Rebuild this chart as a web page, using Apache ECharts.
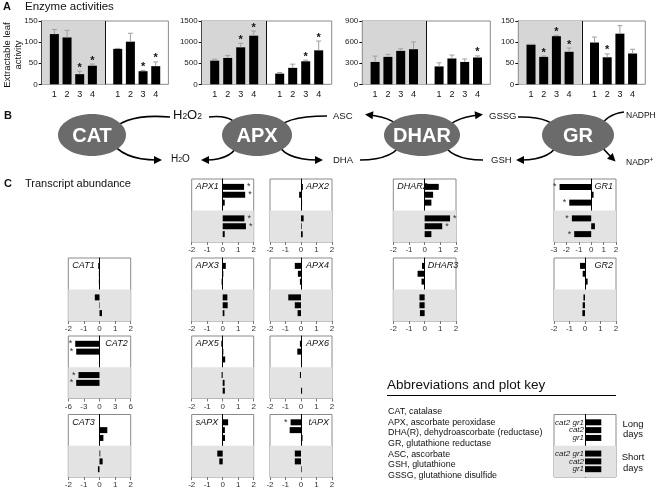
<!DOCTYPE html>
<html><head><meta charset="utf-8">
<script src="https://cdn.jsdelivr.net/npm/echarts@6/dist/echarts.min.js"></script>
<style>html,body{margin:0;padding:0;background:#fff}#c{width:662px;height:490px}</style>
</head><body><div id="c"></div><script>
const FONT = '"Liberation Sans", Arial, Helvetica, sans-serif';

// ---------- Panel A: enzyme activities ----------
const sampleLabels = ['1', '2', '3', '4'];
const enzymeNames = ['CAT', 'APX', 'DHAR', 'GR'];
const catGrey = [119, 111, 24, 44];
const catGreyErr = [130, 128, 31, 48];
const catGreySig = [0, 0, 1, 1];
const catWhite = [84, 101, 31, 43];
const catWhiteErr = [85, 121, 33, 53];
const catWhiteSig = [0, 0, 1, 1];
const apxGrey = [560, 625, 876, 1152];
const apxGreyErr = [595, 685, 971, 1263];
const apxGreySig = [0, 0, 1, 1];
const apxWhite = [253, 390, 545, 805];
const apxWhiteErr = [280, 478, 572, 1026];
const apxWhiteSig = [0, 0, 1, 1];
const dharGrey = [318, 390, 475, 499];
const dharGreyErr = [401, 426, 504, 602];
const dharGreySig = [0, 0, 0, 0];
const dharWhite = [254, 367, 318, 381];
const dharWhiteErr = [305, 416, 360, 404];
const dharWhiteSig = [0, 0, 0, 1];
const grGrey = [94, 65, 114, 77];
const grGreyErr = [95, 67, 116, 86];
const grGreySig = [0, 1, 1, 1];
const grWhite = [99, 64, 120, 73];
const grWhiteErr = [112, 72, 139, 83];
const grWhiteSig = [0, 1, 0, 0];
const activityTicks = [[0, 150, 50], [0, 1500, 500], [0, 900, 300], [0, 150, 50]];

// ---------- Panel C: transcript abundance (log2 ratios) ----------
// order: long days (cat2 gr1, cat2, gr1), short days (cat2 gr1, cat2, gr1)
const genotypes = ['cat2 gr1', 'cat2', 'gr1', 'cat2 gr1', 'cat2', 'gr1'];
const apx1 = [1.38, 1.45, 0.13, 1.4, 1.5, 0.13];
const apx1Sig = [1, 1, 0, 1, 1, 0];
const apx2 = [0.12, -0.12, 0.07, 0.17, 0.04, 0.11];
const apx3 = [0.2, 0.04, -0.07, 0.3, 0.32, 0.11];
const apx4 = [-0.4, -0.2, -0.07, -0.82, -0.4, -0.22];
const apx5 = [-0.09, 0.04, 0.16, -0.07, 0.12, 0.14];
const apx6 = [-0.07, -0.24, 0.0, -0.07, 0.0, 0.07];
const sapx = [0.35, 0.14, 0.15, -0.35, -0.22, 0.0];
const tapx = [-0.67, -0.73, 0.1, -0.4, -0.4, 0.04];
const tapxSig = [1, 0, 0, 0, 0, 0];
const cat1 = [-0.08, -0.04, -0.04, -0.3, 0.03, 0.16];
const cat2 = [-4.67, -4.48, 0.0, -4.04, -4.48, 0.0];
const cat2Sig = [1, 1, 0, 1, 1, 0];
const cat3 = [-0.03, 0.5, 0.25, 0.05, 0.2, -0.1];
const dhar2 = [0.9, 0.54, 0.43, 1.62, 1.12, 0.43];
const dhar2Sig = [0, 0, 0, 1, 1, 0];
const dhar3 = [-0.17, -0.45, -0.2, -0.33, -0.33, -0.3];
const gr1 = [-2.55, 0.19, -1.77, -1.56, 0.3, -1.37];
const gr1Sig = [1, 0, 1, 1, 0, 1];
const gr2 = [-0.32, -0.15, 0.17, -0.1, -0.15, -0.17];
const keyValues = [1.05, 1.05, 1.05, 1.05, 1.05, 1.05];
const noSig = [0, 0, 0, 0, 0, 0];

const abbreviations = [
  'CAT, catalase',
  'APX, ascorbate peroxidase',
  'DHA(R), dehydroascorbate (reductase)',
  'GR, glutathione reductase',
  'ASC, ascorbate',
  'GSH, glutathione',
  'GSSG, glutathione disulfide'
];

// ---------- build option ----------
const grids = [], xAxes = [], yAxes = [], series = [], graphics = [];

function txt(text, x, y, font, opts) {
  opts = opts || {};
  const align = opts.align || 'left';
  const va = opts.va || 'middle';
  const el = {
    type: 'text', x: x, y: y, z: 100, silent: true,
    rotation: opts.rotation || 0,
    style: {
      text: text, font: font, fill: opts.fill || '#111',
      align: align, verticalAlign: va, textAlign: align, textVerticalAlign: va,
      lineHeight: opts.lineHeight
    }
  };
  if (opts.rich) el.style.rich = opts.rich;
  graphics.push(el);
}

// Panel A grids
const aPanels = [
  { g: catGrey, ge: catGreyErr, gs: catGreySig, w: catWhite, we: catWhiteErr, ws: catWhiteSig },
  { g: apxGrey, ge: apxGreyErr, gs: apxGreySig, w: apxWhite, we: apxWhiteErr, ws: apxWhiteSig },
  { g: dharGrey, ge: dharGreyErr, gs: dharGreySig, w: dharWhite, we: dharWhiteErr, ws: dharWhiteSig },
  { g: grGrey, ge: grGreyErr, gs: grGreySig, w: grWhite, we: grWhiteErr, ws: grWhiteSig }
];
const aBoxes = [[41.7, 126.7], [201.7, 130], [362.3, 128], [518.3, 127]];
aPanels.forEach((p, k) => {
  const gi = grids.length;
  grids.push({ left: aBoxes[k][0], top: 21, width: aBoxes[k][1], height: 63.3, show: true,
    borderColor: '#8a8a8a', borderWidth: 1, backgroundColor: 'transparent' });
  const cats = [''].concat(sampleLabels, [''], sampleLabels, ['']);
  const xi = xAxes.length;
  xAxes.push({ gridIndex: gi, type: 'category', data: cats, boundaryGap: false,
    axisLine: { show: false }, axisTick: { show: false },
    axisLabel: { interval: 0, fontSize: 9, margin: 6, color: '#111', fontFamily: FONT },
    splitLine: { show: false } });
  // hidden linear twin of the category axis (same slots) used for the half-panel shading
  const xv = xAxes.length;
  xAxes.push({ gridIndex: gi, type: 'value', min: 0, max: cats.length - 1, show: false, splitLine: { show: false } });
  const t = activityTicks[k];
  const yi = yAxes.length;
  yAxes.push({ gridIndex: gi, type: 'value', min: t[0], max: t[1], interval: t[2],
    axisLine: { show: true, lineStyle: { color: '#111', width: 1 } },
    axisTick: { show: true, length: 3, lineStyle: { color: '#111' } },
    axisLabel: { fontSize: 8, margin: 4, color: '#222', fontFamily: FONT, formatter: v => String(v) },
    splitLine: { show: false } });
  series.push({ type: 'line', xAxisIndex: xv, yAxisIndex: yi, data: [], silent: true,
    markArea: { silent: true, itemStyle: { color: '#d6d6d6' }, data: [[{ xAxis: 0 }, { xAxis: 5 }]] },
    markLine: { silent: true, symbol: 'none', label: { show: false },
      lineStyle: { color: '#111', width: 1, type: 'solid' }, data: [{ xAxis: 5 }] } });
  series.push({ type: 'bar', name: enzymeNames[k], xAxisIndex: xi, yAxisIndex: yi,
    data: [null].concat(p.g, [null], p.w, [null]), barWidth: 9,
    itemStyle: { color: '#000' } });
  const err = [];
  p.g.forEach((v, i) => err.push([1 + i, v, p.ge[i], p.gs[i]]));
  p.w.forEach((v, i) => err.push([6 + i, v, p.we[i], p.ws[i]]));
  series.push({ type: 'custom', xAxisIndex: xi, yAxisIndex: yi, data: err, z: 3,
    renderItem: function (params, api) {
      const x = api.value(0);
      const p0 = api.coord([x, api.value(1)]);
      const p1 = api.coord([x, api.value(2)]);
      const ch = [
        { type: 'line', shape: { x1: p0[0], y1: p0[1], x2: p1[0], y2: p1[1] }, style: { stroke: '#a0a0a0', lineWidth: 1 } },
        { type: 'line', shape: { x1: p1[0] - 2.5, y1: p1[1], x2: p1[0] + 2.5, y2: p1[1] }, style: { stroke: '#a0a0a0', lineWidth: 1 } }
      ];
      if (api.value(3)) ch.push({ type: 'text', style: { text: '*', x: p1[0], y: p1[1] + 2,
        align: 'center', verticalAlign: 'bottom', textAlign: 'center', textVerticalAlign: 'bottom',
        font: 'bold 11px ' + FONT, fill: '#111' } });
      return { type: 'group', children: ch };
    } });
});

// Panel C grids (category slots counted from the bottom edge)
const rowSlots = [28, 24, 20, 12, 8, 4];
const slotCount = 33;
const cCols = [[68.3, 62.4], [191.7, 62], [270, 62], [393.3, 62.7], [554, 62]];
const cRows = [[179, 63], [258, 63], [336, 62.5], [414.5, 62.5]];
const cPanels = [
  { name: 'APX1', v: apx1, s: apx1Sig, col: 1, row: 0, tag: 'left' },
  { name: 'APX2', v: apx2, s: noSig, col: 2, row: 0, tag: 'right' },
  { name: 'DHAR2', v: dhar2, s: dhar2Sig, col: 3, row: 0, tag: 'left' },
  { name: 'GR1', v: gr1, s: gr1Sig, col: 4, row: 0, tag: 'right', range: [-3, 2, 1] },
  { name: 'CAT1', v: cat1, s: noSig, col: 0, row: 1, tag: 'left' },
  { name: 'APX3', v: apx3, s: noSig, col: 1, row: 1, tag: 'left' },
  { name: 'APX4', v: apx4, s: noSig, col: 2, row: 1, tag: 'right' },
  { name: 'DHAR3', v: dhar3, s: noSig, col: 3, row: 1, tag: 'zero' },
  { name: 'GR2', v: gr2, s: noSig, col: 4, row: 1, tag: 'right' },
  { name: 'CAT2', v: cat2, s: cat2Sig, col: 0, row: 2, tag: 'right', range: [-6, 6, 3] },
  { name: 'APX5', v: apx5, s: noSig, col: 1, row: 2, tag: 'left' },
  { name: 'APX6', v: apx6, s: noSig, col: 2, row: 2, tag: 'right' },
  { name: 'CAT3', v: cat3, s: noSig, col: 0, row: 3, tag: 'left' },
  { name: 'sAPX', v: sapx, s: noSig, col: 1, row: 3, tag: 'left' },
  { name: 'tAPX', v: tapx, s: tapxSig, col: 2, row: 3, tag: 'right' },
  { name: '', v: keyValues, s: noSig, col: 4, row: 3, tag: 'none', key: true }
];
cPanels.forEach(p => {
  const gi = grids.length;
  const c = cCols[p.col], r = cRows[p.row];
  grids.push({ left: c[0], top: r[0], width: c[1], height: r[1], show: true,
    borderColor: '#8a8a8a', borderWidth: 1, backgroundColor: 'transparent' });
  const rg = p.range || [-2, 2, 1];
  const xi = xAxes.length;
  xAxes.push({ gridIndex: gi, type: 'value', min: rg[0], max: rg[1], interval: rg[2],
    axisLine: { show: false },
    axisTick: { show: !p.key, length: 3, lineStyle: { color: '#777' } },
    axisLabel: { show: !p.key, fontSize: 8, margin: 4, color: '#333', fontFamily: FONT },
    splitLine: { show: false } });
  const yi = yAxes.length;
  yAxes.push({ gridIndex: gi, type: 'category', data: new Array(slotCount).fill(''), boundaryGap: false,
    axisLine: { show: true, onZero: true, lineStyle: { color: '#000', width: 1 } },
    axisTick: { show: false }, axisLabel: { show: false }, splitLine: { show: false } });
  const barLabel = p.key
    ? { show: true, position: 'left', distance: 1, fontSize: 8, fontStyle: 'italic', color: '#222',
        fontFamily: FONT, formatter: prm => genotypes[prm.dataIndex] }
    : { formatter: '*', fontSize: 9, color: '#333', distance: 3, fontFamily: FONT };
  series.push({ type: 'bar', name: p.name, xAxisIndex: xi, yAxisIndex: yi, barWidth: 6,
    itemStyle: { color: '#000' },
    label: barLabel,
    data: p.v.map((v, i) => p.key ? { value: [v, rowSlots[i]] } : ({ value: [v, rowSlots[i]],
      label: { show: !!p.s[i], position: v < 0 ? 'left' : 'right' } })),
    markArea: { silent: true, itemStyle: { color: '#e3e3e3' }, data: [[{ yAxis: 0 }, { yAxis: 15 }]] } });
  const tagFont = 'italic 9px ' + FONT;
  if (p.tag === 'left') txt(p.name, c[0] + 4, r[0] + 7.5, tagFont);
  else if (p.tag === 'right') txt(p.name, c[0] + c[1] - 3, r[0] + 7.5, tagFont, { align: 'right' });
  else if (p.tag === 'zero') txt(p.name, c[0] + c[1] / 2 + 3, r[0] + 7.5, tagFont);
});

// ---------- titles & text ----------
txt('A', 3, 7, 'bold 11px ' + FONT);
txt('Enzyme activities', 25, 7, '11.5px ' + FONT);
txt('Extractable leaf\nactivity', 13, 55, '9.5px ' + FONT, { align: 'center', rotation: Math.PI / 2, lineHeight: 10.5 });
txt('B', 4, 116, 'bold 11px ' + FONT);
txt('C', 4, 184, 'bold 11px ' + FONT);
txt('Transcript abundance', 25, 184, '11px ' + FONT);
txt('Abbreviations and plot key', 387, 385, '13.5px ' + FONT);
graphics.push({ type: 'line', silent: true, shape: { x1: 387, y1: 395.5, x2: 616, y2: 395.5 }, style: { stroke: '#000', lineWidth: 1 } });
abbreviations.forEach((a, i) => txt(a, 388, 411.5 + i * 10.7, '8.9px ' + FONT));
txt('Long', 633, 424, '9.5px ' + FONT, { align: 'center' });
txt('days', 633, 434, '9.5px ' + FONT, { align: 'center' });
txt('Short', 633, 457, '9.5px ' + FONT, { align: 'center' });
txt('days', 633, 468, '9.5px ' + FONT, { align: 'center' });

// ---------- Panel B: pathway scheme ----------
function arc(x1, y1, cx, cy, x2, y2, head) {
  graphics.push({ type: 'bezierCurve', silent: true, z: 10,
    shape: { x1: x1, y1: y1, cpx1: cx, cpy1: cy, x2: x2, y2: y2 },
    style: { stroke: '#000', lineWidth: 1.6, fill: null } });
  if (head) {
    const dx = x2 - cx, dy = y2 - cy, L = Math.hypot(dx, dy);
    const ux = dx / L, uy = dy / L;
    const tip = [x2 + ux * 5, y2 + uy * 5];
    const bx = x2 - ux * 3, by = y2 - uy * 3;
    graphics.push({ type: 'polygon', silent: true, z: 10,
      shape: { points: [tip, [bx - uy * 4, by + ux * 4], [bx + uy * 4, by - ux * 4]] },
      style: { fill: '#000' } });
  }
}
function enzyme(name, cx, rx) {
  graphics.push({ type: 'ellipse', silent: true, z: 20, shape: { cx: cx, cy: 135, rx: rx, ry: 21 }, style: { fill: '#6b6b6b' } });
  txt(name, cx, 136, 'bold 20px "Liberation Sans Narrow", ' + FONT, { align: 'center', fill: '#fff' });
}
// CAT
arc(170, 117, 124, 113, 110, 133, false);
arc(110, 140, 122, 160, 157, 160, true);
// APX
arc(209, 117, 236, 114, 240, 132, false);
arc(276, 132, 281, 116, 327, 116, false);
arc(240, 140, 234, 160, 206, 160, true);
arc(276, 140, 282, 160, 318, 160, true);
// DHAR
arc(405, 133, 396, 118, 370, 115, true);
arc(441, 133, 452, 118, 478, 115, true);
arc(360, 160, 395, 160, 404, 140, false);
arc(441, 140, 449, 160, 483, 160, false);
// GR
arc(518, 117, 552, 116, 560, 132, false);
arc(560, 140, 553, 160, 521, 160, true);
arc(624, 112, 606, 114, 598, 130, false);
arc(597, 141, 604, 150, 612, 158, true);
enzyme('CAT', 92, 34);
enzyme('APX', 257, 35);
enzyme('DHAR', 422, 38);
enzyme('GR', 578, 36);
const subRich = {
  b: { fontSize: 13, fontFamily: FONT, fill: '#111', padding: [0, 0, 3, 0] },
  s: { fontSize: 8.5, fontFamily: FONT, fill: '#111' }
};
txt('{b|H}{s|2}{b|O}{s|2}', 173, 117, '13px ' + FONT, { rich: subRich });
const subRich2 = {
  b: { fontSize: 10, fontFamily: FONT, fill: '#111', padding: [0, 0, 2, 0] },
  s: { fontSize: 7, fontFamily: FONT, fill: '#111' }
};
txt('{b|H}{s|2}{b|O}', 171, 160, '10px ' + FONT, { rich: subRich2 });
txt('ASC', 333, 116, '9.5px ' + FONT);
txt('DHA', 333, 160, '9.5px ' + FONT);
txt('GSSG', 489, 116, '9.5px ' + FONT);
txt('GSH', 491, 160, '9.5px ' + FONT);
txt('NADPH', 626, 116, '8.5px ' + FONT);
const supRich = {
  b: { fontSize: 8.5, fontFamily: FONT, fill: '#111' },
  p: { fontSize: 6.5, fontFamily: FONT, fill: '#111', padding: [0, 0, 5, 0] }
};
txt('{b|NADP}{p|+}', 626, 163, '8.5px ' + FONT, { rich: supRich });

const chart = echarts.init(document.getElementById('c'), null, { renderer: 'canvas', width: 662, height: 490 });
chart.setOption({
  animation: false,
  backgroundColor: '#fff',
  textStyle: { fontFamily: FONT },
  grid: grids, xAxis: xAxes, yAxis: yAxes, series: series, graphic: graphics
});
</script></body></html>
